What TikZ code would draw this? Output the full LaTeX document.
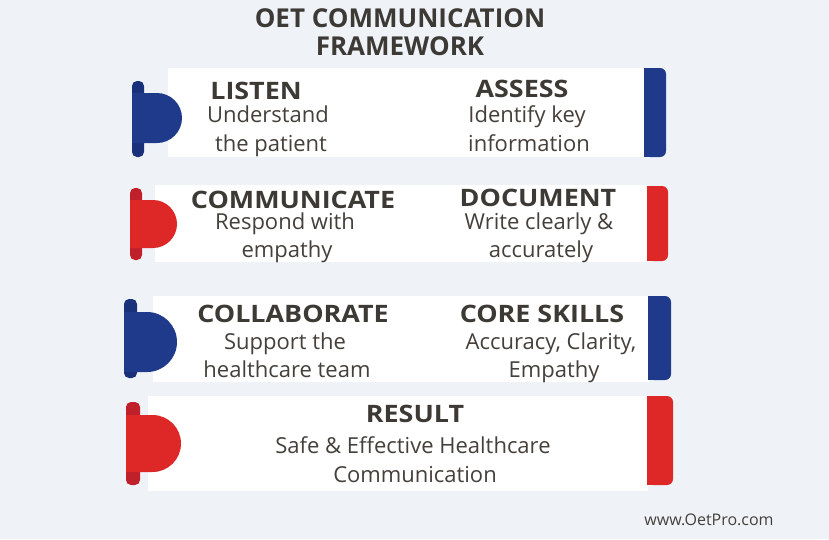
\documentclass[tikz,border=0pt]{standalone}
\usepackage{fontspec}
\setmainfont{Open Sans}
\definecolor{bg}{HTML}{EFF3F8}
\definecolor{bluemain}{HTML}{1F3A8A}
\definecolor{bluedark}{HTML}{19307A}
\definecolor{redmain}{HTML}{DE2828}
\definecolor{reddark}{HTML}{C0202A}
\definecolor{txthead}{HTML}{3D3935}
\definecolor{txtbody}{HTML}{45403B}
\tikzset{
  headtxt/.style={anchor=base, xscale=1.12, font=\bfseries\fontsize{24}{28}\selectfont, text=txthead, inner sep=0},
  bodytxt/.style={anchor=base, font=\fontsize{22}{26}\selectfont, text=txtbody, inner sep=0},
  titletxt/.style={anchor=base, font=\bfseries\fontsize{26}{30}\selectfont, text=txthead, inner sep=0},
}
\newcommand\rightbar[5]{%
  \fill[#5, rounded corners=6pt] (#1,#3) rectangle (#2,#4);
  \fill[#5] (#1,#3) rectangle ({#1+8},#4);
}
\begin{document}
\begin{tikzpicture}[x=1pt,y=-1pt]
\fill[bg] (0,0) rectangle (829,539);
\useasboundingbox (0,0) rectangle (829,539);

% title
\node[titletxt] (t1) at (400,27) {OET COMMUNICATION};
\node[titletxt] (t2) at (400,55) {FRAMEWORK};

% Row 1
\fill[white] (168,68) rectangle (645,157);
\rightbar{644}{666}{68}{157}{bluemain}
\fill[bluedark, rounded corners=5pt] (132,81) rectangle (144,157);
\fill[bluemain] (132,93) -- (157,93) arc[start angle=90, end angle=-90, radius=25pt] -- (132,143) -- cycle;
\node[headtxt] (listen) at (256,99) {LISTEN};
\node[bodytxt] (l1) at (268,122) {Understand};
\node[bodytxt] (l2) at (271,151) {the patient};
\node[headtxt] (assess) at (522,97) {ASSESS};
\node[bodytxt] (a1) at (527,122) {Identify key};
\node[bodytxt] (a2) at (529,151) {information};

% Row 2
\fill[white] (155,185) rectangle (648,262);
\rightbar{647}{668}{186}{261}{redmain}
\fill[reddark, rounded corners=5pt] (130,188) rectangle (142,260);
\fill[redmain] (130,200) -- (153,200) arc[start angle=90, end angle=-90, radius=24pt] -- (130,248) -- cycle;
\node[headtxt] (comm) at (293,208) {COMMUNICATE};
\node[bodytxt] (c1) at (285,229) {Respond with};
\node[bodytxt] (c2) at (287,257) {empathy};
\node[headtxt] (doc) at (538,206) {DOCUMENT};
\node[bodytxt] (d1) at (539,229) {Write clearly \&};
\node[bodytxt] (d2) at (541,257) {accurately};

% Row 3
\fill[white] (153,296) rectangle (649,382);
\rightbar{648}{671}{296}{380}{bluemain}
\fill[bluedark, rounded corners=5pt] (124,299) rectangle (137,378);
\fill[bluemain] (124,312) -- (147,312) arc[start angle=90, end angle=-90, radius=30pt] -- (124,372) -- cycle;
\node[headtxt] (collab) at (293,322) {COLLABORATE};
\node[bodytxt] (co1) at (285,349) {Support the};
\node[bodytxt] (co2) at (287,377) {healthcare team};
\node[headtxt] (core) at (542,322) {CORE SKILLS};
\node[bodytxt] (cs1) at (551,349) {Accuracy, Clarity,};
\node[bodytxt] (cs2) at (554,377) {Empathy};

% Row 4
\fill[white] (148,396) rectangle (648,491);
\rightbar{647}{673}{396}{485}{redmain}
\fill[reddark, rounded corners=5pt] (126,402) rectangle (140,485);
\fill[redmain] (126,415) -- (152.5,415) arc[start angle=90, end angle=-90, radius=28.5pt] -- (126,472) -- cycle;
\node[headtxt] (result) at (415,422) {RESULT};
\node[bodytxt] (r1) at (413,453) {Safe \& Effective Healthcare};
\node[bodytxt] (r2) at (415,482) {Communication};

% footer
\node[anchor=base, font=\fontsize{16}{18}\selectfont, text=txtbody, inner sep=0] (web) at (709,525) {www.OetPro.com};
\end{tikzpicture}
\end{document}
